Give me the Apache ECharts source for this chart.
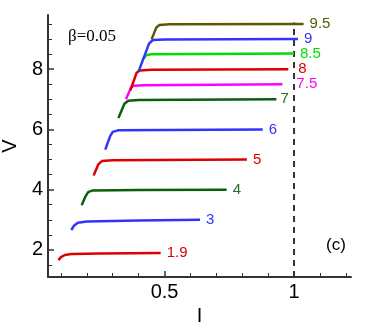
<!DOCTYPE html>
<html>
<head>
<meta charset="utf-8">
<script src="https://cdn.jsdelivr.net/npm/echarts@6/dist/echarts.min.js"></script>
<style>
  html, body { margin: 0; padding: 0; background: #fff; }
  #chart { width: 368px; height: 327px; }
</style>
</head>
<body>
<div id="chart"></div>
<script>
// curve data, [I, V]
const curve19 = [[0.09, 1.66], [0.10, 1.76], [0.115, 1.83], [0.14, 1.86], [0.25, 1.88], [0.485, 1.9]];
const curve3 = [[0.14, 2.66], [0.15, 2.8], [0.165, 2.9], [0.2, 2.94], [0.4, 2.98], [0.637, 3.0]];
const curve4 = [[0.18, 3.48], [0.195, 3.78], [0.205, 3.92], [0.22, 3.97], [0.4, 3.99], [0.74, 4.0]];
const curve5 = [[0.226, 4.47], [0.245, 4.85], [0.258, 4.95], [0.3, 4.98], [0.818, 5.0]];
const curve6 = [[0.271, 5.33], [0.29, 5.78], [0.3, 5.92], [0.32, 5.97], [0.879, 6.0]];
const curve7 = [[0.322, 6.38], [0.345, 6.85], [0.36, 6.95], [0.4, 6.98], [0.932, 7.0]];
const curve75 = [[0.351, 7.0], [0.37, 7.38], [0.38, 7.45], [0.42, 7.47], [0.955, 7.5]];
const curve8 = [[0.368, 7.3], [0.392, 7.88], [0.405, 7.96], [0.45, 7.98], [0.978, 8.0]];
const curve85 = [[0.415, 8.32], [0.43, 8.47], [0.45, 8.5], [1.0, 8.52]];
const curve9 = [[0.4, 7.93], [0.44, 8.85], [0.455, 8.97], [0.5, 8.99], [1.015, 9.0]];
const curve95 = [[0.45, 8.99], [0.468, 9.38], [0.48, 9.47], [0.52, 9.49], [1.037, 9.5]];
const dashLine = [[1, 1.1], [1, 9.55]];

const xLabels = [0.5, 1];
const xMinor = [0.1, 0.2, 0.3, 0.4, 0.6, 0.7, 0.8, 0.9, 1.1, 1.2];
const yLabels = [2, 4, 6, 8];
const yMinor = [1.5, 2.5, 3, 3.5, 4.5, 5, 5.5, 6.5, 7, 7.5, 8.5, 9, 9.5];

const chart = echarts.init(document.getElementById("chart"));

function curve(name, data, color, labelColor, dist) {
  return {
    name: name,
    type: "line",
    data: data,
    symbol: "none",
    lineStyle: { color: color, width: 2.5 },
    endLabel: {
      show: true,
      formatter: name,
      color: labelColor || color,
      fontSize: 15,
      fontFamily: "Liberation Sans",
      distance: dist || 6,
    },
  };
}

const axisCol = "#333";

chart.setOption({
  animation: false,
  grid: { left: 48, right: 17, top: 15, bottom: 50, outerBoundsMode: "none" },
  xAxis: [
    {
      type: "value",
      min: 0.05,
      max: 1.22,
      name: "I",
      nameLocation: "middle",
      nameGap: 28,
      nameTextStyle: { fontSize: 20, color: "#000", fontFamily: "Liberation Sans" },
      axisLine: { lineStyle: { color: axisCol, width: 2 } },
      axisTick: { inside: true, length: 6, customValues: xLabels, lineStyle: { color: axisCol, width: 1.5 } },
      axisLabel: { customValues: xLabels, fontSize: 20, color: "#000", fontFamily: "Liberation Sans", margin: 5 },
      splitLine: { show: false },
    },
    {
      type: "value",
      min: 0.05,
      max: 1.22,
      position: "bottom",
      offset: 0,
      axisLine: { show: false },
      axisTick: { inside: true, length: 4, customValues: xMinor, lineStyle: { color: axisCol, width: 1 } },
      axisLabel: { show: false },
      splitLine: { show: false },
    },
  ],
  yAxis: [
    {
      type: "value",
      min: 1.1,
      max: 9.8,
      name: "V",
      nameLocation: "middle",
      nameGap: 27,
      nameTextStyle: { fontSize: 20, color: "#000", fontFamily: "Liberation Sans" },
      axisLine: { show: true, lineStyle: { color: axisCol, width: 2 } },
      axisTick: { show: true, inside: true, length: 6, customValues: yLabels, lineStyle: { color: axisCol, width: 1.5 } },
      axisLabel: { customValues: yLabels, fontSize: 20, color: "#000", fontFamily: "Liberation Sans", margin: 5 },
      splitLine: { show: false },
    },
    {
      type: "value",
      min: 1.1,
      max: 9.8,
      position: "left",
      offset: 0,
      axisLine: { show: false },
      axisTick: { show: true, inside: true, length: 4, customValues: yMinor, lineStyle: { color: axisCol, width: 1 } },
      axisLabel: { show: false },
      splitLine: { show: false },
    },
  ],
  graphic: [
    {
      type: "text",
      left: 68,
      top: 28,
      style: { text: "β=0.05", fontSize: 17, fontFamily: "Liberation Serif", fill: "#000" },
    },
    {
      type: "text",
      left: 326,
      top: 237,
      style: { text: "(c)", fontSize: 17, fontFamily: "Liberation Sans", fill: "#000" },
    },
  ],
  series: [
    {
      name: "dash",
      type: "line",
      data: dashLine,
      symbol: "none",
      silent: true,
      lineStyle: { color: "#333", width: 2, type: [6, 5] },
    },
    curve("1.9", curve19, "#dd0000"),
    curve("3", curve3, "#3333ff"),
    curve("4", curve4, "#0b5e0b", "#2a6a2a"),
    curve("5", curve5, "#dd0000"),
    curve("6", curve6, "#3333ff"),
    curve("7", curve7, "#0b5e0b", "#2a6a2a", 4),
    curve("7.5", curve75, "#ff00ff", null, 14),
    curve("8", curve8, "#dd0000", null, 10),
    curve("8.5", curve85, "#00dd00"),
    curve("9", curve9, "#3333ff"),
    curve("9.5", curve95, "#5a5a00"),
  ],
});

window.addEventListener("resize", () => {
  chart.resize();
});
</script>
</body>
</html>
